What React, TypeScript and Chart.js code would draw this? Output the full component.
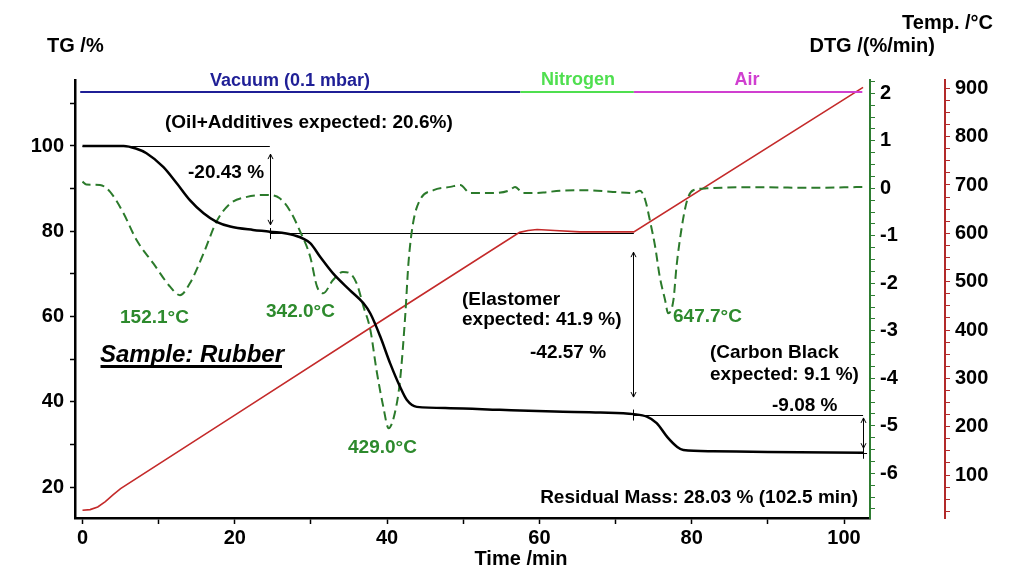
import React, { useEffect, useRef } from 'react';
import { Chart, registerables } from 'chart.js';

Chart.register(...registerables);

const FONT = "'Liberation Sans', Arial, Helvetica, sans-serif";

// TG: residual mass (%) against time (min)
const tgTime = [0, 5.4, 7, 8.4, 10.6, 12.4, 14.1, 15.9, 17.6, 19.4, 22.4, 24.6, 27.7, 29.9, 31.2, 32.9, 35.1, 36.9, 37.8, 39.1, 40.4, 41.7, 42.6, 43.9, 48.3, 54.8, 62, 68, 72.4, 74.1, 75.4, 76.8, 78.1, 78.9, 82.8, 90, 102.5];
const tgMass = [100, 100, 99.4, 98.3, 95.1, 91.2, 87.3, 84.2, 82.2, 81.1, 80.3, 79.9, 79.1, 77.2, 74.0, 70.1, 66.2, 63.1, 60.7, 55.3, 49.0, 43.5, 40.4, 38.8, 38.5, 38.1, 37.7, 37.5, 37.1, 36.5, 35.0, 31.7, 29.4, 28.7, 28.4, 28.2, 28.03];

// DTG: mass-loss rate (%/min)
const dtgTime = [0, 0.5, 2.3, 3.6, 5.4, 7.1, 9.3, 11.5, 12.8, 14.1, 15.9, 17.6, 19.4, 21.6, 24.2, 25.9, 27.2, 28.5, 29.9, 30.8, 31.6, 32.9, 34.2, 35.1, 36.0, 36.9, 37.8, 38.6, 39.5, 40.2, 41.0, 41.7, 42.4, 42.8, 43.4, 44.3, 46.1, 48.3, 49.6, 50.9, 53.9, 56.1, 56.8, 57.9, 60.5, 62.7, 66.2, 69.3, 72.3, 73.2, 73.9, 74.5, 75.2, 75.8, 76.5, 76.9, 77.6, 78.0, 78.7, 79.4, 80.2, 82.0, 86, 90, 95, 100, 102.4];
const dtgRate = [0.14, 0.08, 0.07, -0.07, -0.53, -1.09, -1.58, -2.07, -2.25, -2.0, -1.37, -0.70, -0.32, -0.18, -0.14, -0.21, -0.46, -0.88, -1.44, -2.07, -2.21, -1.93, -1.76, -1.79, -2.0, -2.49, -2.98, -3.82, -4.6, -5.05, -4.74, -4.04, -2.63, -1.58, -0.74, -0.25, -0.04, 0.03, 0.07, -0.1, -0.1, -0.04, 0.03, -0.1, -0.09, -0.05, -0.04, -0.07, -0.1, -0.05, -0.25, -0.67, -1.23, -1.86, -2.35, -2.63, -2.35, -1.65, -0.81, -0.25, -0.04, 0.0, 0.02, 0.02, 0.01, 0.02, 0.03];

// Sample temperature (°C)
const tempTime = [0, 1, 2, 3, 4, 5, 20, 40, 57.4, 58.5, 59.7, 62, 65.3, 72.4, 102.5];
const tempValue = [27, 28.5, 34, 45, 59, 72, 224, 427, 602, 606, 608, 606, 603, 603, 902];

// Purge gas programme
const gasNames = ['Vacuum (0.1 mbar)', 'Nitrogen', 'Air'];
const gasStart = [-0.3, 57.5, 72.4];
const gasEnd = [57.5, 72.4, 102.4];

// Step evaluation (TG levels in %, times in min)
const stepLevels = [100, 79.57, 37.0, 28.03];
const stepTimes = [24.6, 72.3, 102.5];
const stepLabels = ['-20.43 %', '-42.57 %', '-9.08 %'];
const arrowTop = [98.1, 75.1, 36.2];
const arrowBottom = [81.5, 41.1, 29.1];

// DTG peak temperatures
const peakLabels = ['152.1°C', '342.0°C', '429.0°C', '647.7°C'];

// Axis tick labels
const timeTickLabels = [0, 20, 40, 60, 80, 100];
const tgTickLabels = [20, 40, 60, 80, 100];
const dtgTickLabels = [-6, -5, -4, -3, -2, -1, 0, 1, 2];
const tempTickLabels = [100, 200, 300, 400, 500, 600, 700, 800, 900];

const COLORS = {
  tg: '#000000',
  dtg: '#2b7a2b',
  dtgText: '#2d8a2d',
  dtgAxis: '#2e7d32',
  temp: '#c42a2a',
  tempAxis: '#b22a2a',
  gas: ['#1f1f96', '#4fdf4f', '#d03fd0'],
};

const GAS_LEVEL = 112.67; // TG-axis height of the gas bars

const range = (from: number, to: number, step: number) => {
  const out: number[] = [];
  for (let v = from; v <= to + 1e-9; v += step) out.push(Math.round(v * 1000) / 1000);
  return out;
};

const xy = (xs: number[], ys: number[]) => xs.map((x, i) => ({ x, y: ys[i] }));

function drawText(ctx: CanvasRenderingContext2D, s: string, x: number, y: number, size: number, color: string, align: CanvasTextAlign = 'left', style = 'bold') {
  ctx.font = `${style} ${size}px ${FONT}`;
  ctx.fillStyle = color;
  ctx.textAlign = align;
  ctx.textBaseline = 'alphabetic';
  ctx.fillText(s, x, y);
}

function arrowHead(ctx: CanvasRenderingContext2D, x: number, y: number, dir: number) {
  ctx.beginPath();
  ctx.moveTo(x - 2.5, y + dir * 5);
  ctx.lineTo(x, y);
  ctx.lineTo(x + 2.5, y + dir * 5);
  ctx.stroke();
}

const overlayPlugin = {
  id: 'tgaOverlay',
  beforeDatasetsDraw(chart: any) {
    const { ctx } = chart;
    const sx = chart.scales.x;
    const sy = chart.scales.yTG;
    const px = (t: number) => sx.getPixelForValue(t);
    const py = (v: number) => sy.getPixelForValue(v);
    ctx.save();
    ctx.strokeStyle = '#000';
    ctx.lineWidth = 1;
    const hline = (t0: number, t1: number, v: number) => {
      ctx.beginPath();
      ctx.moveTo(px(t0), Math.round(py(v)) + 0.5);
      ctx.lineTo(px(t1), Math.round(py(v)) + 0.5);
      ctx.stroke();
    };
    hline(0, stepTimes[0], stepLevels[0]);
    hline(stepTimes[0], stepTimes[1] + 0.1, stepLevels[1]);
    hline(stepTimes[1], stepTimes[2], stepLevels[2]);

    stepTimes.forEach((t, i) => {
      const x = Math.round(px(t)) + 0.5;
      const y0 = py(arrowTop[i]);
      const y1 = py(arrowBottom[i]);
      ctx.beginPath();
      ctx.moveTo(x, y0);
      ctx.lineTo(x, y1);
      ctx.stroke();
      arrowHead(ctx, x, y0, 1);
      arrowHead(ctx, x, y1, -1);
      // small marker crossing the lower level
      const yl = py(stepLevels[i + 1]);
      ctx.beginPath();
      ctx.moveTo(x, yl - 5);
      ctx.lineTo(x, yl + 6);
      ctx.stroke();
    });
    const xe = px(stepTimes[2]);
    const ye = Math.round(py(stepLevels[3])) + 0.5;
    ctx.beginPath();
    ctx.moveTo(xe - 4, ye);
    ctx.lineTo(xe + 4, ye);
    ctx.stroke();
    ctx.restore();
  },
  afterDraw(chart: any) {
    const { ctx } = chart;
    const sx = chart.scales.x;
    const sy = chart.scales.yTG;
    ctx.save();

    // purge gas bars
    const gy = sy.getPixelForValue(GAS_LEVEL);
    gasNames.forEach((_, i) => {
      ctx.strokeStyle = COLORS.gas[i];
      ctx.lineWidth = 2;
      ctx.beginPath();
      ctx.moveTo(sx.getPixelForValue(gasStart[i]), gy);
      ctx.lineTo(sx.getPixelForValue(gasEnd[i]), gy);
      ctx.stroke();
    });
    drawText(ctx, gasNames[0], 290, 86, 18, COLORS.gas[0], 'center');
    drawText(ctx, gasNames[1], 578, 85, 18, COLORS.gas[1], 'center');
    drawText(ctx, gasNames[2], 747, 85, 18, COLORS.gas[2], 'center');

    // axis titles
    drawText(ctx, 'TG /%', 47, 52, 20, '#000');
    drawText(ctx, 'DTG /(%/min)', 935, 52, 20, '#000', 'right');
    drawText(ctx, 'Temp. /°C', 993, 28.5, 20, '#000', 'right');
    drawText(ctx, 'Time /min', 521, 565, 20, '#000', 'center');

    // evaluation texts
    drawText(ctx, '(Oil+Additives expected: 20.6%)', 165, 128, 19, '#000');
    drawText(ctx, stepLabels[0], 188, 178, 19, '#000');
    drawText(ctx, '(Elastomer', 462, 305, 19, '#000');
    drawText(ctx, 'expected: 41.9 %)', 462, 325, 19, '#000');
    drawText(ctx, stepLabels[1], 530, 358, 19, '#000');
    drawText(ctx, '(Carbon Black', 710, 358, 19, '#000');
    drawText(ctx, 'expected: 9.1 %)', 710, 380, 19, '#000');
    drawText(ctx, stepLabels[2], 772, 411, 19, '#000');
    drawText(ctx, 'Residual Mass: 28.03 % (102.5 min)', 858, 503, 19, '#000', 'right');

    // DTG peak temperatures
    drawText(ctx, peakLabels[0], 120, 323, 19, COLORS.dtgText);
    drawText(ctx, peakLabels[1], 266, 316.5, 19, COLORS.dtgText);
    drawText(ctx, peakLabels[2], 348, 453, 19, COLORS.dtgText);
    drawText(ctx, peakLabels[3], 673, 321.5, 19, COLORS.dtgText);

    // sample name
    drawText(ctx, 'Sample: Rubber', 100, 361.5, 24, '#000', 'left', 'italic bold');
    ctx.strokeStyle = '#000';
    ctx.lineWidth = 3;
    ctx.beginPath();
    ctx.moveTo(100.5, 366.5);
    ctx.lineTo(282, 366.5);
    ctx.stroke();

    ctx.restore();
  },
};

const tickFont = { family: FONT, size: 20, weight: 'bold' as const };

export default function App() {
  const ref = useRef<HTMLCanvasElement>(null);

  useEffect(() => {
    document.body.style.margin = '0';
    const canvas = ref.current;
    if (!canvas) return;

    const xTicks = range(0, 100, 10);
    const tgTicks = range(20, 110, 10);
    const dtgTicks = range(-6.75, 2.25, 0.25);
    const tempTicks = range(25, 900, 25);

    const chart = new Chart(canvas, {
      type: 'line',
      data: {
        datasets: [
          {
            label: 'TG',
            data: xy(tgTime, tgMass),
            yAxisID: 'yTG',
            borderColor: COLORS.tg,
            borderWidth: 2.5,
            pointRadius: 0,
            cubicInterpolationMode: 'monotone',
            order: 0,
          },
          {
            label: 'DTG',
            data: xy(dtgTime, dtgRate),
            yAxisID: 'yDTG',
            borderColor: COLORS.dtg,
            borderWidth: 2,
            borderDash: [9, 5],
            pointRadius: 0,
            cubicInterpolationMode: 'monotone',
            order: 1,
          },
          {
            label: 'Temperature',
            data: xy(tempTime, tempValue),
            yAxisID: 'yT',
            borderColor: COLORS.temp,
            borderWidth: 1.6,
            pointRadius: 0,
            tension: 0,
            order: 2,
          },
        ],
      },
      options: {
        responsive: false,
        animation: false,
        events: [],
        layout: { padding: { top: 80, left: 0, right: 0, bottom: 0 } },
        plugins: {
          legend: { display: false },
          tooltip: { enabled: false },
          title: { display: false },
        },
        scales: {
          x: {
            type: 'linear',
            position: 'bottom',
            min: -0.985,
            max: 103.41,
            afterBuildTicks: (s: any) => { s.ticks = xTicks.map((value) => ({ value })); },
            afterFit: (s: any) => { s.height = 69; },
            ticks: {
              autoSkip: false,
              maxRotation: 0,
              padding: 2,
              color: '#000',
              font: tickFont,
              callback: (v: any) => (timeTickLabels.includes(Number(v)) ? String(v) : ''),
            },
            grid: { drawOnChartArea: false, tickLength: 6, tickColor: '#000', tickWidth: 1.5 },
            border: { display: true, color: '#000', width: 2.5 },
          },
          yTG: {
            type: 'linear',
            position: 'left',
            min: 12.73,
            max: 115.48,
            afterBuildTicks: (s: any) => { s.ticks = tgTicks.map((value) => ({ value })); },
            afterFit: (s: any) => { s.width = 75; },
            ticks: {
              autoSkip: false,
              padding: 6,
              color: '#000',
              font: tickFont,
              callback: (v: any) => (tgTickLabels.includes(Number(v)) ? String(v) : ''),
            },
            grid: { drawOnChartArea: false, tickLength: 5, tickColor: '#000', tickWidth: 1.5 },
            border: { display: true, color: '#000', width: 2.5 },
          },
          yDTG: {
            type: 'linear',
            position: 'right',
            min: -6.94,
            max: 2.28,
            afterBuildTicks: (s: any) => { s.ticks = dtgTicks.map((value) => ({ value })); },
            afterFit: (s: any) => { s.width = 75; },
            ticks: {
              autoSkip: false,
              padding: 5,
              color: '#000',
              font: tickFont,
              callback: (v: any) => (dtgTickLabels.includes(Number(v)) ? String(v) : ''),
            },
            grid: { drawOnChartArea: false, tickLength: 5, tickColor: COLORS.dtgAxis, tickWidth: 1 },
            border: { display: true, color: COLORS.dtgAxis, width: 2 },
          },
          yT: {
            type: 'linear',
            position: 'right',
            min: 11.1,
            max: 917.2,
            afterBuildTicks: (s: any) => { s.ticks = tempTicks.map((value) => ({ value })); },
            afterFit: (s: any) => { s.width = 75; },
            ticks: {
              autoSkip: false,
              padding: 5,
              color: '#000',
              font: tickFont,
              callback: (v: any) => (tempTickLabels.includes(Number(v)) ? String(v) : ''),
            },
            grid: { drawOnChartArea: false, tickLength: 5, tickColor: COLORS.tempAxis, tickWidth: 1 },
            border: { display: true, color: COLORS.tempAxis, width: 2 },
          },
        },
      },
      plugins: [overlayPlugin],
    } as any);

    return () => chart.destroy();
  }, []);

  return (
    <div style={{ width: 1020, height: 587, position: 'relative', background: '#ffffff', overflow: 'hidden' }}>
      <canvas ref={ref} width={1020} height={587} style={{ display: 'block' }} />
    </div>
  );
}
